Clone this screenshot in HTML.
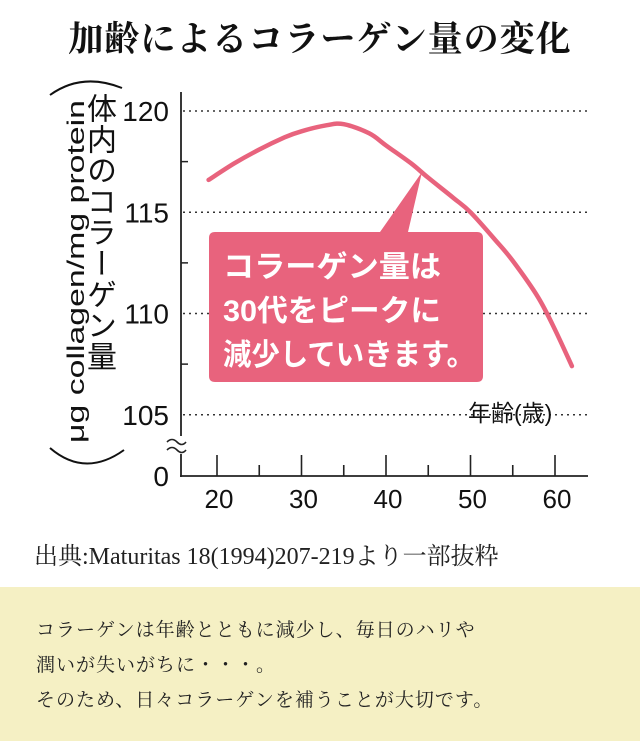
<!DOCTYPE html>
<html><head><meta charset="utf-8"><style>
html,body{margin:0;padding:0;background:#fff;}
body{width:640px;height:741px;position:relative;overflow:hidden;font-family:"Liberation Sans","Noto Sans CJK JP",sans-serif;}
#title{position:absolute;left:0;top:12px;width:640px;text-align:center;font-family:"Liberation Serif","Noto Serif CJK SC",serif;font-size:35px;letter-spacing:1px;color:#111;font-weight:bold;}
#src{position:absolute;left:34px;top:536px;font-family:"Liberation Serif","Noto Serif CJK SC",serif;font-size:24px;color:#222;white-space:nowrap;}
#note{position:absolute;left:0;top:587px;width:640px;height:154px;background:#f5f0c4;}
#note p{margin:0;position:absolute;left:36px;top:26px;font-family:"Liberation Serif","Noto Serif CJK SC",serif;font-size:19px;line-height:35px;color:#222;letter-spacing:1px;}
</style></head><body>
<div id="title">加齢によるコラーゲン量の変化</div>
<svg id="chart" width="640" height="530" style="position:absolute;left:0;top:0" xmlns="http://www.w3.org/2000/svg"></svg>
<div id="src">出典:Maturitas 18(1994)207-219より一部抜粋</div>
<div id="note"><p>コラーゲンは年齢とともに減少し、毎日のハリや<br>潤いが失いがちに・・・。<br>そのため、日々コラーゲンを補うことが大切です。</p></div>
<script>
const ages=[19,22,25,28,30,33,35,38,40,43,45,48,50,53,55,58,60,62];
const values=[116.6,117.4,118.1,118.7,119.0,119.3,119.35,118.9,118.3,117.4,116.7,115.7,115.0,113.6,112.6,110.8,109.2,107.4];
const yTicks=[105,110,115,120];
const xTicks=[20,30,40,50,60];
const svg=document.getElementById('chart');
const NS='http://www.w3.org/2000/svg';
const X=v=>217+(v-20)*8.45;
const Y=v=>111+(120-v)*20.25;
function mk(tag,attrs,parent){const e=document.createElementNS(NS,tag);for(const k in attrs)e.setAttribute(k,attrs[k]);(parent||svg).appendChild(e);return e;}
yTicks.forEach(t=>{
 const g=mk('line',{x1:183,x2:588,y1:Y(t),y2:Y(t),stroke:'#333','stroke-width':1.6,'stroke-dasharray':'2 4'});
 
 
 const tx=mk('text',{x:169,y:Y(t)+10,'text-anchor':'end','font-size':28,fill:'#111','font-family':'Liberation Sans, sans-serif'});
 tx.textContent=t;
 
 
});
[107.5,112.5,117.5].forEach(t=>{mk('line',{x1:181,x2:188,y1:Y(t),y2:Y(t),stroke:'#222','stroke-width':1.5});});
const z=mk('text',{x:169,y:486,'text-anchor':'end','font-size':28,fill:'#111'});z.textContent='0';


const ya=mk('line',{x1:181,x2:181,y1:92,y2:477,stroke:'#222','stroke-width':1.8});


const xa=mk('line',{x1:180,x2:588,y1:476,y2:476,stroke:'#222','stroke-width':1.8});


mk('rect',{x:176,y:436,width:10,height:18,fill:'#fff'});
mk('path',{d:'M167 442 q5 -5 10 0 t9 0 M167 450 q5 -5 10 0 t9 0',fill:'none',stroke:'#222','stroke-width':1.6});
xTicks.forEach(t=>{
 mk('line',{x1:X(t),x2:X(t),y1:455,y2:476,stroke:'#222','stroke-width':1.6});
 if(t<60) mk('line',{x1:X(t+5),x2:X(t+5),y1:465,y2:476,stroke:'#222','stroke-width':1.6});
 const tx=mk('text',{x:X(t)+2,y:508,'text-anchor':'middle','font-size':26,fill:'#111'});
 tx.textContent=t;
 
 
});
const xt=mk('text',{x:468,y:421,'font-size':23,fill:'#111','font-family':'Liberation Sans, Noto Sans CJK JP, sans-serif'});
xt.textContent='年齢(歳)';


// smooth curve (Catmull-Rom)
const pts=ages.map((a,i)=>[X(a),Y(values[i])]);
let d='M'+pts[0][0].toFixed(1)+' '+pts[0][1].toFixed(1);
for(let i=0;i<pts.length-1;i++){
 const p0=pts[Math.max(0,i-1)],p1=pts[i],p2=pts[i+1],p3=pts[Math.min(pts.length-1,i+2)];
 const c1=[p1[0]+(p2[0]-p0[0])/6,p1[1]+(p2[1]-p0[1])/6];
 const c2=[p2[0]-(p3[0]-p1[0])/6,p2[1]-(p3[1]-p1[1])/6];
 d+=' C'+c1.map(v=>v.toFixed(1)).join(' ')+' '+c2.map(v=>v.toFixed(1)).join(' ')+' '+p2.map(v=>v.toFixed(1)).join(' ');
}
const line=mk('path',{d:d,fill:'none',stroke:'#e8637d','stroke-width':4.5,'stroke-linejoin':'round','stroke-linecap':'round'});


const b=mk('path',{d:'M215 232 H380 L422 172 L408 232 H477 Q483 232 483 238 V376 Q483 382 477 382 H215 Q209 382 209 376 V238 Q209 232 215 232 Z',fill:'#e8637d'});


[['コラーゲン量は',218],['30代をピークに',218],['減少していきます。',252]].forEach((s,i)=>{
 const t=mk('text',{x:223,y:277+i*44,'font-size':30,'font-weight':'bold',fill:'#fff','font-family':'Liberation Sans, Noto Sans CJK JP, sans-serif',textLength:s[1],lengthAdjust:'spacingAndGlyphs'});
 t.textContent=s[0];
 
 
});
const yl=mk('text',{x:0,y:0,'font-size':24,fill:'#111',transform:'translate(84,443) rotate(-90)',textLength:343,lengthAdjust:'spacingAndGlyphs'});
yl.textContent='μg collagen/mg protein';


const jp=mk('text',{x:102,y:93,'font-size':30,fill:'#111','writing-mode':'tb','font-family':'Noto Sans CJK JP, sans-serif','letter-spacing':1});
jp.textContent='体内のコラーゲン量';


mk('path',{d:'M50 95 Q82 72 122 88',fill:'none',stroke:'#111','stroke-width':2});
mk('path',{d:'M50 448 Q85 478 124 450',fill:'none',stroke:'#111','stroke-width':2});
</script>
</body></html>
